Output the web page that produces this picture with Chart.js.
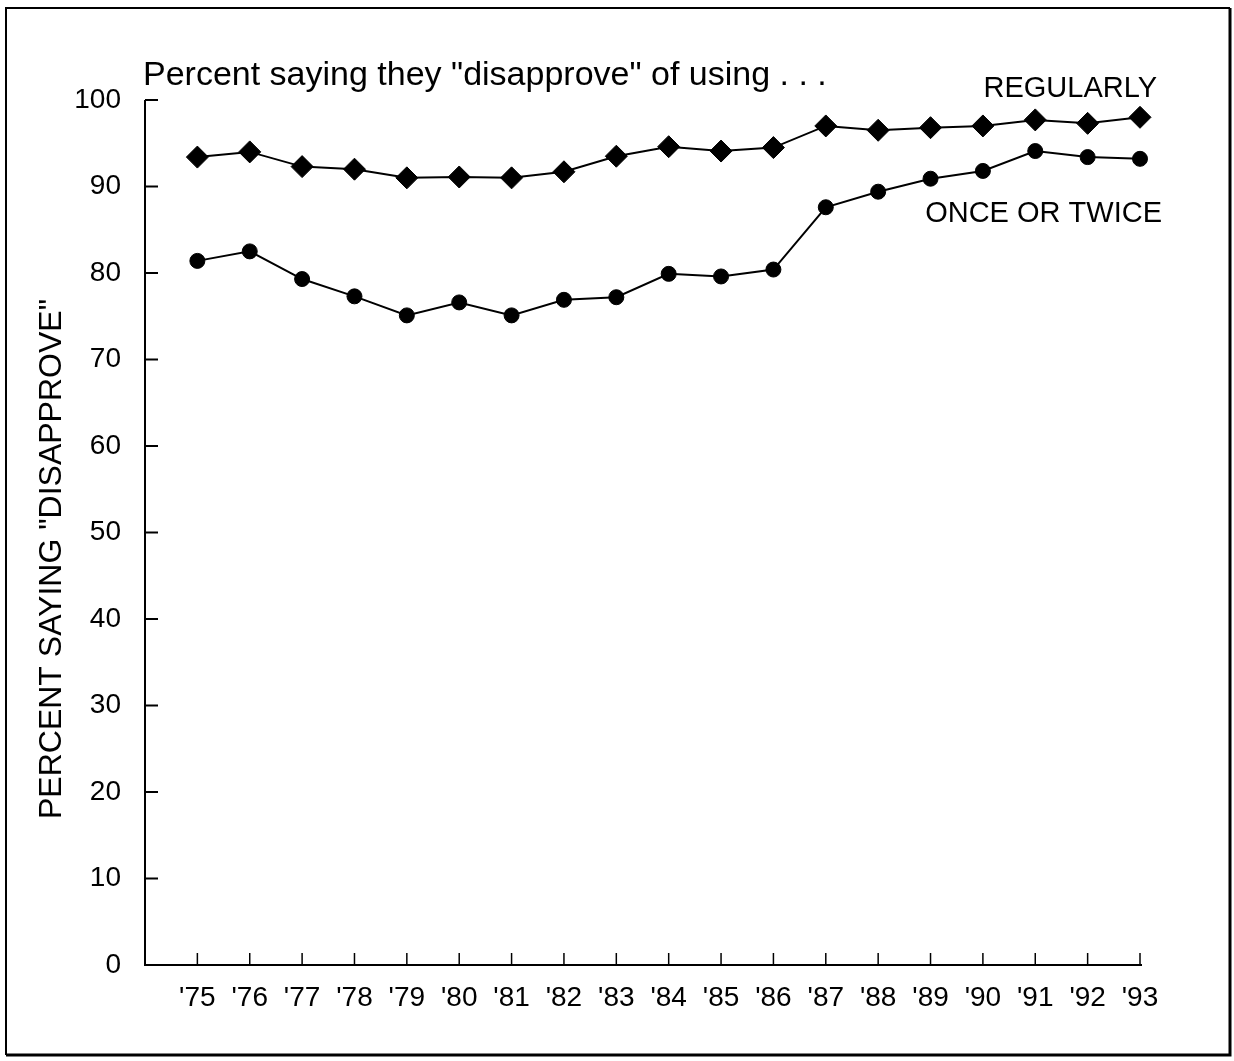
<!DOCTYPE html>
<html>
<head>
<meta charset="utf-8">
<script src="https://cdn.jsdelivr.net/npm/chart.js@4/dist/chart.umd.min.js"></script>
<style>
  html, body { margin: 0; padding: 0; background: #fff; }
  #wrap { width: 1234px; height: 1061px; position: relative; }
</style>
</head>
<body>
<div id="wrap"><canvas id="chart" width="1234" height="1061"></canvas></div>
<script>
// Survey years ('75 .. '93)
const years = [75, 76, 77, 78, 79, 80, 81, 82, 83, 84, 85, 86, 87, 88, 89, 90, 91, 92, 93];

// Percent saying they "disapprove" of using regularly
const regularly = [93.4, 94.0, 92.3, 92.0, 91.0, 91.1, 91.0, 91.7, 93.5, 94.6, 94.1, 94.5, 97.0, 96.5, 96.8, 97.0, 97.7, 97.3, 98.0];

// Percent saying they "disapprove" of using once or twice
const onceOrTwice = [81.4, 82.5, 79.3, 77.3, 75.1, 76.6, 75.1, 76.9, 77.2, 79.9, 79.6, 80.4, 87.6, 89.4, 90.9, 91.8, 94.1, 93.4, 93.2];

const yTicks = [0, 10, 20, 30, 40, 50, 60, 70, 80, 90, 100];

const FONT = "'Liberation Sans', Arial, sans-serif";

const toPoints = (vals) => vals.map((v, i) => ({ x: years[i], y: v }));

// frame, axis lines, inward tick marks and text labels
const decorations = {
  id: 'decorations',
  beforeDraw(chart) {
    const { ctx } = chart;
    ctx.save();
    ctx.strokeStyle = '#000';
    ctx.lineWidth = 2;
    ctx.beginPath();
    ctx.moveTo(6, 1055); ctx.lineTo(6, 8); ctx.lineTo(1230, 8);
    ctx.stroke();
    ctx.lineWidth = 3;
    ctx.beginPath();
    ctx.moveTo(1230, 8); ctx.lineTo(1230, 1055); ctx.lineTo(6, 1055);
    ctx.stroke();
    ctx.restore();
  },
  afterDatasetsDraw(chart) {
    const { ctx, scales: { x, y }, chartArea: a } = chart;
    ctx.save();
    ctx.strokeStyle = '#000';
    // axes
    ctx.lineWidth = 2;
    ctx.beginPath();
    ctx.moveTo(a.left, y.getPixelForValue(100));
    ctx.lineTo(a.left, y.getPixelForValue(0));
    ctx.lineTo(x.getPixelForValue(93) + 2, y.getPixelForValue(0));
    ctx.stroke();
    // y ticks pointing in
    yTicks.forEach(v => {
      const py = y.getPixelForValue(v);
      ctx.beginPath();
      ctx.moveTo(a.left, py);
      ctx.lineTo(a.left + 13, py);
      ctx.stroke();
    });
    // x ticks pointing up
    ctx.lineWidth = 1.5;
    years.forEach(v => {
      const px = x.getPixelForValue(v);
      const py = y.getPixelForValue(0);
      ctx.beginPath();
      ctx.moveTo(px, py);
      ctx.lineTo(px, py - 12);
      ctx.stroke();
    });
    // labels
    ctx.fillStyle = '#000';
    ctx.textBaseline = 'alphabetic';
    ctx.font = '34px ' + FONT;
    ctx.textAlign = 'left';
    ctx.fillText('Percent saying they "disapprove" of using . . .', 143, 85);
    ctx.font = '29px ' + FONT;
    ctx.textAlign = 'right';
    ctx.fillText('REGULARLY', 1157, 97);
    ctx.fillText('ONCE OR TWICE', 1162, 222);
    // y axis title
    ctx.save();
    ctx.translate(61, 559);
    ctx.rotate(-Math.PI / 2);
    ctx.textAlign = 'center';
    ctx.font = '32px ' + FONT;
    ctx.fillText('PERCENT SAYING "DISAPPROVE"', 0, 0);
    ctx.restore();
    ctx.restore();
  }
};

new Chart(document.getElementById('chart'), {
  type: 'line',
  data: {
    datasets: [
      {
        label: 'REGULARLY',
        data: toPoints(regularly),
        borderColor: '#000',
        backgroundColor: '#000',
        borderWidth: 2,
        pointStyle: 'rectRot',
        pointRadius: 11,
        pointBorderWidth: 1,
        tension: 0,
      },
      {
        label: 'ONCE OR TWICE',
        data: toPoints(onceOrTwice),
        borderColor: '#000',
        backgroundColor: '#000',
        borderWidth: 2,
        pointStyle: 'circle',
        pointRadius: 7.5,
        pointBorderWidth: 1,
        tension: 0,
      },
    ],
  },
  options: {
    responsive: false,
    animation: false,
    clip: false,
    layout: { padding: { left: 14, right: 94, top: 100, bottom: 36 } },
    plugins: {
      legend: { display: false },
      tooltip: { enabled: false },
    },
    scales: {
      x: {
        type: 'linear',
        min: 74,
        max: 93,
        afterFit: s => { s.height = 60; },
        afterBuildTicks: s => { s.ticks = years.map(v => ({ value: v })); },
        grid: { display: false, drawTicks: false },
        border: { display: false },
        ticks: {
          color: '#000',
          padding: 16,
          font: { family: FONT, size: 28 },
          callback: v => "'" + v,
        },
      },
      y: {
        min: 0,
        max: 100,
        afterFit: s => { s.width = 131; },
        afterBuildTicks: s => { s.ticks = yTicks.map(v => ({ value: v })); },
        grid: { display: false, drawTicks: false },
        border: { display: false },
        ticks: {
          color: '#000',
          padding: 24,
          font: { family: FONT, size: 28 },
        },
      },
    },
  },
  plugins: [decorations],
});
</script>
</body>
</html>
